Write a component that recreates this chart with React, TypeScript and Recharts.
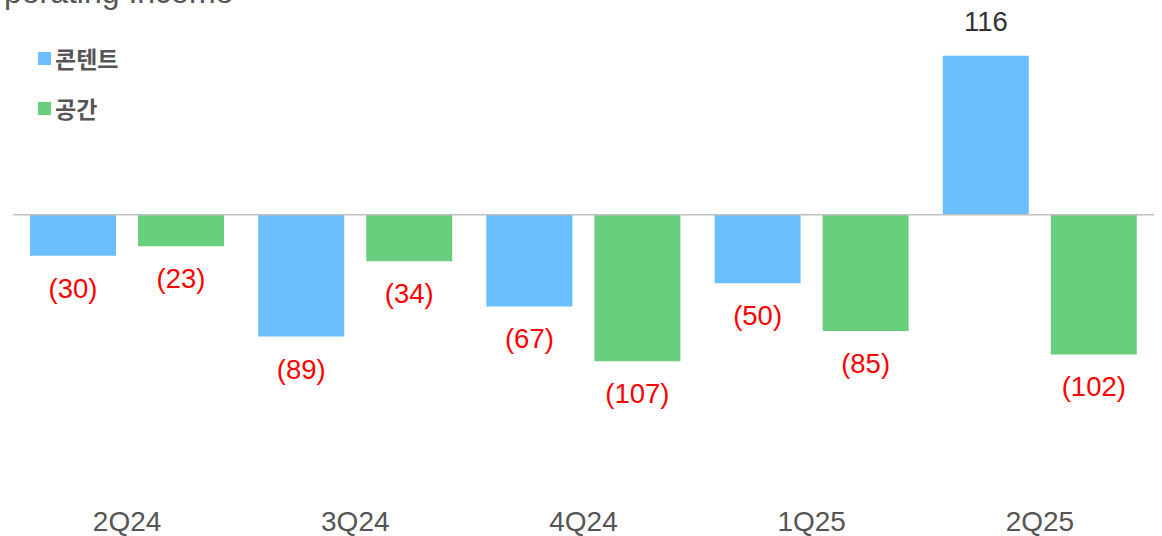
import { BarChart, Bar, XAxis, YAxis, Legend, ReferenceLine, LabelList } from 'recharts';

const quarters = ['2Q24', '3Q24', '4Q24', '1Q25', '2Q25'];
const contentValues = [-30, -89, -67, -50, 116];
const spaceValues = [-23, -34, -107, -85, -102];
const seriesNames = ['콘텐트', '공간'];

const BLUE = '#6bbfff';
const GREEN = '#69cf7f';

const data = quarters.map((q, i) => ({
  quarter: q,
  content: contentValues[i],
  space: spaceValues[i],
}));

const fmt = (v: number) => (v < 0 ? `(${Math.abs(v)})` : `${v}`);

function ValueLabel(props: any) {
  const { x, y, width, height, value } = props;
  const top = Math.min(y, y + height);
  const bottom = Math.max(y, y + height);
  const neg = value < 0;
  return (
    <text
      x={x + width / 2}
      y={neg ? bottom + 42 : top - 25}
      textAnchor="middle"
      fontSize={27.5}
      fontFamily="'Liberation Sans', Arial, sans-serif"
      fill={neg ? '#ff0000' : '#333333'}
    >
      {fmt(value)}
    </text>
  );
}

function LegendBox() {
  const colors = [BLUE, GREEN];
  return (
    <div style={{ position: 'absolute', left: 38, top: 43 }}>
      {seriesNames.map((name, i) => (
        <div
          key={name}
          style={{
            display: 'flex',
            alignItems: 'center',
            height: 30,
            marginBottom: i === 0 ? 20 : 0,
            fontFamily: "'Noto Sans CJK KR', sans-serif",
            fontSize: 23,
            fontWeight: 700,
            color: '#555',
          }}
        >
          <span style={{ width: 13, height: 13, background: colors[i], marginRight: 4, display: 'inline-block' }} />
          {name}
        </div>
      ))}
    </div>
  );
}

export default function App() {
  return (
    <div
      style={{
        position: 'absolute',
        left: 0,
        top: 0,
        width: 1162,
        height: 536,
        overflow: 'hidden',
        background: '#fff',
      }}
    >
      <div
        style={{
          position: 'absolute',
          left: -21,
          top: -26,
          fontSize: 32,
          lineHeight: '36px',
          fontFamily: "'Liberation Sans', Arial, sans-serif",
          color: '#555',
          whiteSpace: 'nowrap',
        }}
      >
        Operating Income
      </div>
      <BarChart
        width={1162}
        height={536}
        data={data}
        margin={{ top: 23, right: 8, left: 13, bottom: 0 }}
        barSize={86}
        barGap={22}
      >
        <XAxis
          dataKey="quarter"
          axisLine={false}
          tickLine={false}
          tickSize={0}
          tickMargin={32}
          height={57}
          interval={0}
          tick={{ fontSize: 28, fill: '#555', fontFamily: "'Liberation Sans', Arial, sans-serif" }}
        />
        <YAxis hide domain={[-193, 140]} allowDataOverflow />
        <Legend content={() => <LegendBox />} wrapperStyle={{ position: 'absolute', left: 0, top: 0 }} />
        <Bar dataKey="content" name={seriesNames[0]} fill={BLUE} isAnimationActive={false}>
          <LabelList dataKey="content" content={ValueLabel} />
        </Bar>
        <Bar dataKey="space" name={seriesNames[1]} fill={GREEN} isAnimationActive={false}>
          <LabelList dataKey="space" content={ValueLabel} />
        </Bar>
        <ReferenceLine y={0} stroke="#c0c0c0" strokeWidth={1.5} />
      </BarChart>
    </div>
  );
}
